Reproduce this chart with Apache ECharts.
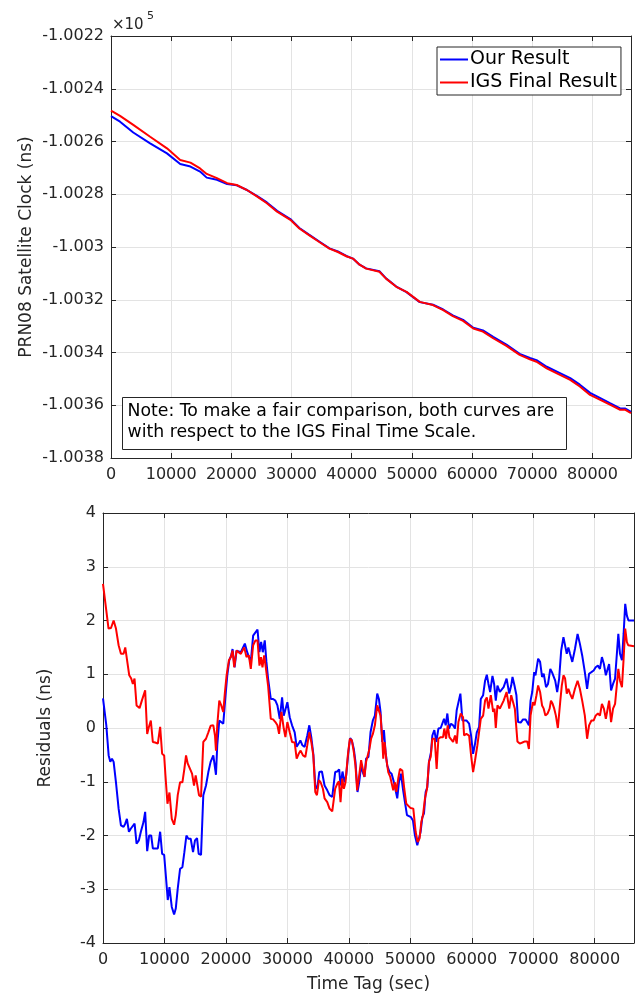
<!DOCTYPE html>
<html>
<head>
<meta charset="utf-8">
<script src="https://cdn.jsdelivr.net/npm/echarts@6/dist/echarts.min.js"></script>
<style>
  html, body { margin: 0; padding: 0; background: #ffffff; }
  #chart { width: 635px; height: 994px; }
</style>
</head>
<body>
<div id="chart"></div>
<script>
// ---- Satellite clock (ns), PRN08, one day ----
var clockTimeOurs = [0,1500,3700,6500,9300,11500,13200,14800,15900,17600,19300,20900,22600,24300,25900,27600,29800,31300,32900,34600,36300,37700,39100,40200,41300,42400,44600,45700,47400,49100,50200,51300,53500,55200,56800,58500,60200,61800,63500,65700,67900,69600,70700,72400,74600,76300,77900,79600,81300,82900,84600,85400,86400];
var clockOurs = [-100250.4,-100252.5,-100256.6,-100260.7,-100264.5,-100268.5,-100269.5,-100271.4,-100273.7,-100274.5,-100276.1,-100276.6,-100278.4,-100280.7,-100283.1,-100286.3,-100289.4,-100292.8,-100295.3,-100297.9,-100300.5,-100301.7,-100303.4,-100304.4,-100306.7,-100308.1,-100309.2,-100311.9,-100315.0,-100317.1,-100319.0,-100320.9,-100321.9,-100323.7,-100325.9,-100327.6,-100330.6,-100331.6,-100334.1,-100337.0,-100340.5,-100342.1,-100342.9,-100345.4,-100347.8,-100349.7,-100352.2,-100355.3,-100357.3,-100359.2,-100361.2,-100361.2,-100362.5];
var clockTimeIgs = [0,1500,3700,6500,9300,11500,13200,14800,15900,17600,19300,20900,22600,24300,25900,27600,29800,31300,32900,34600,36300,37700,39100,40200,41300,42400,44600,45700,47400,49100,50200,51300,53500,55200,56800,58500,60200,61800,63500,65700,67900,69600,70700,72400,74600,76300,77900,79600,81300,82900,84600,85400,86400];
var clockIgs = [-100248.3,-100250.3,-100253.7,-100258.2,-100262.6,-100267.0,-100268.0,-100270.2,-100272.3,-100273.9,-100275.8,-100276.5,-100278.4,-100280.9,-100283.4,-100286.6,-100289.7,-100293.0,-100295.5,-100298.1,-100300.6,-100301.9,-100303.5,-100304.4,-100306.7,-100308.2,-100309.4,-100312.0,-100315.1,-100317.0,-100318.9,-100320.8,-100322.0,-100323.9,-100326.2,-100328.0,-100330.9,-100332.1,-100334.6,-100337.5,-100340.9,-100342.6,-100343.5,-100346.0,-100348.5,-100350.4,-100352.9,-100356.1,-100358.0,-100359.8,-100361.7,-100361.7,-100363.0];

// ---- Residuals (ns) ----
var resTimeOurs = [0,270,540,920,1190,1460,1730,2110,2540,2920,3350,3620,3890,4220,4540,4860,5140,5460,5840,6160,6590,6860,7190,7510,7840,8110,8490,8920,9300,9620,9950,10220,10540,10810,11190,11570,11840,12160,12540,12920,13240,13570,13890,14270,14650,14970,15300,15570,15950,16320,16760,17140,17510,17950,18220,18380,18590,18920,19240,19570,19890,20220,20540,20860,21080,21410,21730,22430,23080,23460,23730,24050,24430,24810,25140,25460,25730,26000,26320,26590,26860,27300,27680,28050,28380,28760,29140,29410,29680,30000,30380,30760,31190,31510,31840,32110,32430,32810,33240,33570,33890,34220,34540,34860,35190,35620,36050,36490,36860,37300,37570,37780,38110,38430,38650,38970,39300,39570,39950,40220,40490,40810,41080,41410,41680,42000,42270,42540,42810,43190,43530,43910,44240,44620,44890,45160,45430,45710,45980,46250,46630,46960,47340,47610,47880,48150,48480,48800,49130,49460,49780,50110,50430,50760,51140,51410,51680,51960,52230,52500,52770,53040,53370,53590,53910,54240,54570,54950,55220,55490,55760,56030,56300,56630,56960,57280,57550,57830,58150,58480,58750,59130,59570,59890,60220,60540,60820,61200,61470,61850,62170,62450,62720,62990,63370,63640,63910,64180,64570,64890,65190,65670,66100,66420,66630,66950,67270,67540,67970,68340,68770,69090,69300,69570,69840,70160,70370,70800,71120,71440,71710,72090,72410,72780,73050,73320,73580,73900,74220,74550,74920,75190,75460,75720,75990,76360,76790,77220,77590,77970,78400,78770,79090,79470,79840,80160,80530,80860,81180,81500,81820,82140,82350,82670,82990,83320,83580,83850,84120,84440,84710,84970,85240,85500,86400];
var resOurs = [0.55,0.54,0.05,-0.51,-0.63,-0.57,-0.63,-1.01,-1.50,-1.81,-1.84,-1.78,-1.69,-1.93,-1.87,-1.86,-1.78,-2.15,-2.09,-1.93,-1.75,-1.56,-2.29,-2.00,-2.00,-2.24,-2.24,-2.24,-1.93,-2.34,-2.36,-2.74,-3.20,-2.96,-3.33,-3.47,-3.36,-2.99,-2.62,-2.59,-2.31,-2.00,-2.06,-2.06,-2.31,-2.09,-2.05,-2.34,-2.36,-1.25,-1.07,-0.82,-0.63,-0.51,-0.54,-0.87,-0.32,0.14,0.11,0.08,0.54,0.98,1.26,1.35,1.47,1.13,1.44,1.41,1.57,1.41,1.44,1.23,1.72,1.78,1.83,1.41,1.60,1.41,1.63,1.23,0.92,0.54,0.54,0.51,0.42,0.17,0.57,0.23,0.23,0.48,0.20,0.05,-0.08,-0.35,-0.29,-0.23,-0.32,-0.35,-0.14,0.05,-0.17,-0.48,-1.07,-1.13,-0.82,-0.81,-1.07,-1.16,-1.25,-1.28,-1.25,-0.82,-0.81,-0.77,-1.07,-0.81,-1.01,-0.88,-0.42,-0.19,-0.23,-0.39,-0.63,-1.19,-1.01,-0.70,-0.82,-0.91,-0.57,-0.54,-0.08,0.14,0.23,0.64,0.54,0.30,-0.26,-0.04,-0.45,-0.70,-0.82,-0.85,-1.01,-1.01,-1.31,-1.01,-0.85,-1.13,-1.38,-1.62,-1.61,-1.66,-1.72,-2.00,-2.18,-2.15,-1.93,-1.66,-1.59,-1.19,-1.10,-0.63,-0.45,-0.14,-0.04,-0.26,-0.01,0.00,-0.01,0.17,0.05,0.27,-0.01,0.08,0.05,-0.01,0.33,0.36,0.64,0.14,0.11,0.14,0.08,-0.14,-0.48,-0.29,-0.08,0.02,0.54,0.61,0.88,0.99,0.82,0.67,0.97,0.82,0.51,0.79,0.67,0.70,0.76,0.92,0.64,0.79,0.95,0.79,0.61,0.11,0.10,0.16,0.16,0.14,0.05,0.51,0.67,1.04,0.98,1.29,1.23,0.95,1.01,0.76,0.82,1.10,1.04,1.07,0.88,0.67,0.92,1.44,1.69,1.66,1.38,1.50,1.38,1.23,1.47,1.75,1.57,1.35,1.04,0.73,1.01,1.04,1.07,1.13,1.16,1.10,1.32,1.19,0.98,0.95,1.19,0.70,0.82,0.92,0.92,1.75,1.38,1.26,1.75,2.31,2.09,2.00,2.00];

var resTimeIgs = [0,900,1300,1730,2110,2540,2920,3350,3620,3890,4270,4590,4860,5130,5460,5950,6320,6860,7190,7400,7780,8110,8490,8920,9300,9620,9950,10160,10490,10810,11190,11570,11840,12160,12540,12920,13240,13510,13780,14160,14490,14810,15080,15350,15620,15950,16320,16760,17140,17510,17950,18220,18380,18590,18920,19240,19570,19840,20110,20490,20810,21080,21350,21730,22430,22970,23350,23730,24050,24430,24810,25140,25460,25700,25950,26220,26490,26860,27300,27680,28050,28380,28650,29030,29410,29680,30000,30380,30760,31190,31510,31840,32160,32540,32920,33240,33570,33890,34220,34540,34810,35140,35410,35780,36050,36490,36860,37300,37570,37780,38110,38380,38650,38920,39190,39460,39840,40160,40490,40810,41080,41350,41620,42000,42270,42540,42810,43080,43350,43620,43910,44240,44620,44890,45160,45430,45600,45820,46090,46410,46740,47010,47230,47500,47720,48040,48320,48700,49020,49350,49670,50050,50490,50870,51200,51520,51790,52070,52390,52720,53040,53320,53590,53970,54290,54570,54950,55330,55540,55820,56090,56360,56630,56960,57280,57550,57830,58210,58590,58750,59130,59570,59890,60220,60540,60920,61200,61470,61850,62170,62450,62720,63100,63480,63700,63910,64180,64570,64890,65190,65670,66100,66420,66680,67010,67430,67810,68240,68660,69040,69300,69570,69950,70210,70530,70800,71120,71440,71710,71980,72350,72670,72890,73160,73420,73690,74010,74390,74650,74920,75190,75460,75720,75990,76360,76790,77220,77590,77970,78400,78770,79090,79470,79840,80160,80530,80860,81180,81500,81820,82140,82350,82670,82990,83320,83580,83850,84120,84440,84710,84970,85240,85450,86400];
var resIgs = [2.68,1.85,1.86,2.00,1.85,1.54,1.38,1.38,1.50,1.47,0.98,0.92,0.82,0.92,0.42,0.37,0.51,0.70,-0.11,-0.01,0.14,-0.26,-0.27,-0.29,0.02,-0.48,-0.51,-0.88,-1.41,-1.20,-1.69,-1.80,-1.62,-1.25,-1.01,-1.01,-0.76,-0.51,-0.66,-0.76,-0.85,-1.07,-0.88,-0.87,-1.25,-1.28,-0.26,-0.20,-0.08,0.04,0.05,-0.14,-0.42,0.05,0.51,0.42,0.30,0.67,0.98,1.26,1.32,1.44,1.13,1.44,1.38,1.50,1.32,1.35,1.10,1.54,1.63,1.63,1.16,1.32,1.13,1.35,1.13,0.79,0.17,0.16,0.11,0.05,-0.11,0.30,-0.01,-0.17,0.11,-0.08,-0.26,-0.27,-0.57,-0.48,-0.42,-0.51,-0.54,-0.32,-0.08,-0.26,-0.51,-1.19,-1.25,-0.97,-1.01,-1.13,-1.31,-1.38,-1.50,-1.55,-1.56,-1.13,-1.04,-0.99,-1.38,-0.94,-1.13,-1.01,-0.51,-0.20,-0.23,-0.45,-0.70,-1.16,-0.94,-0.60,-0.76,-0.91,-0.63,-0.60,-0.39,-0.20,-0.11,0.05,0.42,0.42,0.23,-0.20,-0.57,-0.26,-0.57,-0.82,-0.91,-0.88,-1.16,-1.01,-1.19,-0.94,-0.76,-0.79,-1.13,-1.41,-1.43,-1.49,-1.50,-1.93,-2.12,-2.05,-1.75,-1.62,-1.31,-1.13,-0.63,-0.54,-0.20,-0.20,-0.76,-0.20,-0.17,-0.17,-0.01,-0.20,0.05,-0.17,-0.17,-0.26,-0.14,-0.29,0.11,0.27,0.20,-0.14,-0.11,-0.14,-0.51,-0.82,-0.60,-0.32,-0.29,0.17,0.23,0.51,0.57,0.36,0.61,0.30,0.36,0.00,0.42,0.36,0.33,0.51,0.67,0.36,0.61,0.61,0.36,-0.25,-0.29,-0.27,-0.25,-0.25,-0.39,0.23,0.48,0.42,0.61,0.79,0.67,0.42,0.36,0.23,0.27,0.36,0.51,0.45,0.36,0.23,0.00,0.48,0.79,0.98,0.92,0.64,0.73,0.64,0.54,0.73,0.88,0.73,0.51,0.23,-0.20,0.05,0.14,0.14,0.23,0.27,0.23,0.45,0.36,0.17,0.17,0.51,0.11,0.36,0.45,0.48,1.10,0.88,0.76,1.29,1.85,1.60,1.54,1.52];

var xTicks = { min: 0, max: 86400, interval: 10000 };
var clockTicks = { min: -100380, max: -100220, interval: 20 };
var resTicks = { min: -4, max: 4, interval: 1 };
var seriesNames = ['Our Result', 'IGS Final Result'];
var noteLines = ['Note: To make a fair comparison, both curves are', 'with respect to the IGS Final Time Scale.'];

function pairs(ts, vs) {
  var out = [];
  for (var i = 0; i < ts.length; i++) out.push([ts[i], vs[i]]);
  return out;
}

var FONT = 'DejaVu Sans';
var INK = '#262626';
var GRIDC = '#e3e3e3';

function plainNumber(v) { return String(v); }

function xAxisMain(gridIndex, name) {
  return {
    type: 'value', gridIndex: gridIndex, position: 'bottom',
    min: xTicks.min, max: xTicks.max, interval: xTicks.interval,
    name: name || '', nameLocation: 'middle', nameGap: 33, nameMoveOverlap: false,
    nameTextStyle: { fontFamily: FONT, fontSize: 17, color: INK },
    axisLine: { onZero: false, lineStyle: { color: INK, width: 1 } },
    axisTick: { inside: true, length: 5, lineStyle: { color: INK } },
    axisLabel: { fontFamily: FONT, fontSize: 16, color: INK, margin: 9, showMaxLabel: false, formatter: plainNumber },
    splitLine: { show: true, lineStyle: { color: GRIDC, width: 1 } }
  };
}
function xAxisTop(gridIndex) {
  return {
    type: 'value', gridIndex: gridIndex, position: 'top',
    min: xTicks.min, max: xTicks.max, interval: xTicks.interval,
    axisLine: { onZero: false, lineStyle: { color: INK, width: 1 } },
    axisTick: { inside: true, length: 5, lineStyle: { color: INK } },
    axisLabel: { show: false }, splitLine: { show: false }
  };
}
function yAxisMain(gridIndex, t, name, gap, fmt) {
  return {
    type: 'value', gridIndex: gridIndex, position: 'left',
    min: t.min, max: t.max, interval: t.interval,
    name: name, nameLocation: 'middle', nameGap: gap, nameMoveOverlap: false,
    nameTextStyle: { fontFamily: FONT, fontSize: 17, color: INK },
    axisLine: { onZero: false, lineStyle: { color: INK, width: 1 } },
    axisTick: { inside: true, length: 5, lineStyle: { color: INK } },
    axisLabel: { fontFamily: FONT, fontSize: 16, color: INK, margin: 7, formatter: fmt || plainNumber },
    splitLine: { show: true, lineStyle: { color: GRIDC, width: 1 } }
  };
}
function yAxisRight(gridIndex, t) {
  return {
    type: 'value', gridIndex: gridIndex, position: 'right',
    min: t.min, max: t.max, interval: t.interval,
    axisLine: { onZero: false, lineStyle: { color: INK, width: 1 } },
    axisTick: { inside: true, length: 5, lineStyle: { color: INK } },
    axisLabel: { show: false }, splitLine: { show: false }
  };
}

function clockLabel(v) {
  return parseFloat((v / 1e5).toFixed(4)).toString();
}

function lineSeries(name, color, xi, yi, data) {
  return {
    name: name, type: 'line', xAxisIndex: xi, yAxisIndex: yi,
    data: data, showSymbol: false, symbol: 'none', silent: true,
    lineStyle: { color: color, width: 2 }, itemStyle: { color: color },
    clip: true
  };
}

var chart = echarts.init(document.getElementById('chart'), null, { renderer: 'canvas' });
chart.setOption({
  animation: false,
  backgroundColor: '#ffffff',
  grid: [
    { left: 111, top: 36, width: 520, height: 422 },
    { left: 103, top: 513, width: 531, height: 431 }
  ],
  xAxis: [xAxisMain(0), xAxisTop(0), xAxisMain(1, 'Time Tag (sec)'), xAxisTop(1)],
  yAxis: [
    yAxisMain(0, clockTicks, 'PRN08 Satellite Clock (ns)', 76, clockLabel),
    yAxisRight(0, clockTicks),
    yAxisMain(1, resTicks, 'Residuals (ns)', 49),
    yAxisRight(1, resTicks)
  ],
  legend: {
    show: true, data: seriesNames, orient: 'vertical',
    left: 437, top: 47, padding: [3, 4, 3, 3], itemGap: 4,
    itemWidth: 28, itemHeight: 2, icon: 'rect',
    borderColor: INK, borderWidth: 1, backgroundColor: '#ffffff',
    textStyle: { fontFamily: FONT, fontSize: 19, color: '#000000', padding: [0, 0, 0, -3] }
  },
  series: [
    lineSeries(seriesNames[0], '#0000ff', 0, 0, pairs(clockTimeOurs, clockOurs)),
    lineSeries(seriesNames[1], '#ff0000', 0, 0, pairs(clockTimeIgs, clockIgs)),
    lineSeries(seriesNames[0], '#0000ff', 2, 2, pairs(resTimeOurs, resOurs)),
    lineSeries(seriesNames[1], '#ff0000', 2, 2, pairs(resTimeIgs, resIgs))
  ],
  graphic: [
    { type: 'text', left: 112, top: 18, z: 100, style: { text: '\u00d710', fontFamily: FONT, fontSize: 15, fill: INK } },
    { type: 'text', left: 147, top: 11, z: 100, style: { text: '5', fontFamily: FONT, fontSize: 11, fill: INK } },
    {
      type: 'group', left: 122, top: 397, z: 100,
      children: [
        { type: 'rect', z: 100, shape: { x: 0, y: 0, width: 444, height: 52 },
          style: { fill: '#ffffff', stroke: INK, lineWidth: 1 } },
        { type: 'text', z: 101, x: 5, y: 4,
          style: { text: noteLines.join('\n'), fontFamily: FONT, fontSize: 17.3, lineHeight: 21, fill: '#000000' } }
      ]
    }
  ]
});
</script>
</body>
</html>
